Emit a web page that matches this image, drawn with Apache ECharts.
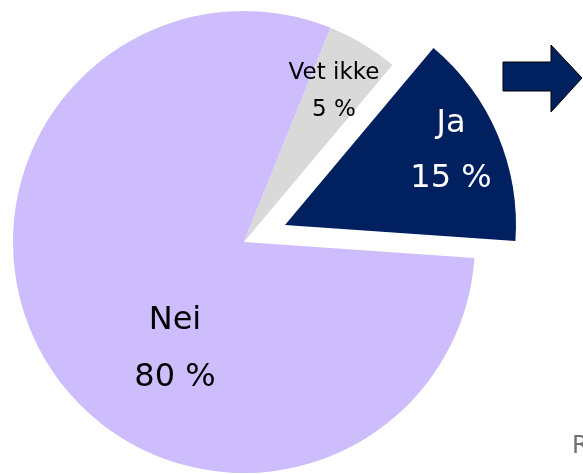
<!DOCTYPE html>
<html>
    <head>
        <meta charset="utf-8">
        <title>Ja / Nei / Vet ikke</title>
        <script src="https://cdn.jsdelivr.net/npm/echarts@6/dist/echarts.min.js"></script>
        <style>
            html, body { margin: 0; padding: 0; background: #fff; }
        </style>
    </head>
    <body>
        <div id="chart" style="width: 583px;height: 474px;"></div>

        <script type="text/javascript">
            // data
            var categories = ['Ja', 'Nei', 'Vet ikke'];
            var values = [15, 80, 5];
            var colors = ['#002060', '#CDBDFD', '#D9D9D9'];
            var labelColors = ['#ffffff', '#000000', '#000000'];

            // label placement (centre of text block, line height, font size)
            var labelPos = [
                { x: 451, y: 151, lh: 55, fs: 32 },
                { x: 175, y: 349, lh: 57, fs: 32 },
                { x: 334, y: 92, lh: 37, fs: 23 }
            ];

            var center = [244, 242];
            var explode = [41, -17];  // the 'Ja' slice is pulled out

            var chart = echarts.init(document.getElementById('chart'));

            // rich text styles, one per slice
            var rich = {};
            labelPos.forEach(function (p, i) {
                rich['s' + i] = {
                    fontSize: p.fs,
                    lineHeight: p.lh,
                    color: labelColors[i],
                    fontFamily: 'DejaVu Sans',
                    align: 'center'
                };
            });

            // one series draws the rest, the other only the pulled out slice
            function makeData(showIdx) {
                return categories.map(function (name, i) {
                    var on = showIdx(i);
                    return {
                        name: name,
                        value: values[i],
                        itemStyle: { color: on ? colors[i] : 'rgba(0,0,0,0)' },
                        label: { show: on }
                    };
                });
            }

            var baseSeries = {
                type: 'pie',
                radius: [0, 231],
                startAngle: 50,
                clockwise: true,
                silent: true,
                emphasis: { disabled: true },
                itemStyle: { borderWidth: 0 },
                label: {
                    show: true,
                    position: 'inside',
                    formatter: function (params) {
                        var k = 's' + params.dataIndex;
                        return '{' + k + '|' + params.name + '}\n{' + k + '|' + params.value + ' %}';
                    },
                    rich: rich
                },
                labelLine: { show: false },
                labelLayout: function (params) {
                    var p = labelPos[params.dataIndex];
                    return { x: p.x, y: p.y, align: 'center', verticalAlign: 'middle' };
                }
            };

            var option = {
                animation: false,
                series: [
                    Object.assign({}, baseSeries, {
                        center: center,
                        data: makeData(function (i) { return i !== 0; })
                    }),
                    Object.assign({}, baseSeries, {
                        center: [center[0] + explode[0], center[1] + explode[1]],
                        data: makeData(function (i) { return i === 0; })
                    })
                ],
                graphic: [
                    {
                        // arrow top right
                        type: 'polygon',
                        shape: {
                            points: [[503, 62], [551, 62], [551, 45], [582, 78], [551, 112], [551, 91], [503, 91]]
                        },
                        style: { fill: '#002060', stroke: '#000000', lineWidth: 1 }
                    },
                    {
                        type: 'text',
                        left: 572,
                        top: 435,
                        style: { text: 'R', fontSize: 24, fontFamily: 'DejaVu Sans', fill: '#707070' }
                    }
                ]
            };

            chart.setOption(option);
        </script>
    </body>
</html>
